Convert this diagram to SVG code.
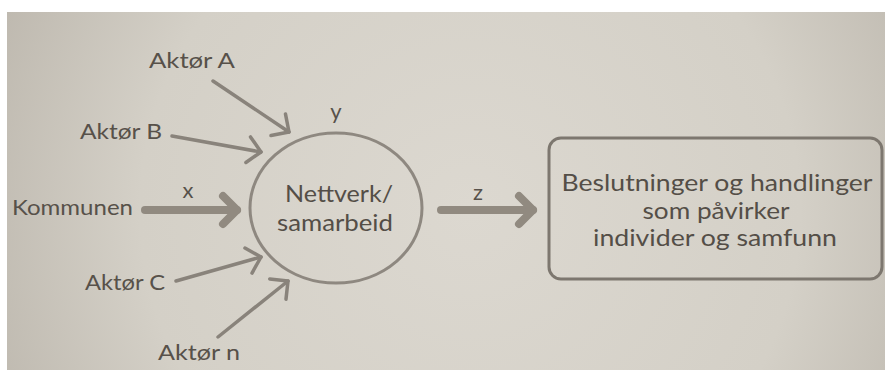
<svg xmlns="http://www.w3.org/2000/svg" width="885" height="370" viewBox="0 0 885 370">
  <defs>
    <radialGradient id="paper" cx="470" cy="210" r="600" gradientUnits="userSpaceOnUse">
      <stop offset="0" stop-color="#dcd8d0"/>
      <stop offset="0.55" stop-color="#d4d0c7"/>
      <stop offset="1" stop-color="#b3ada3"/>
    </radialGradient>
    <marker id="thin-head" markerUnits="userSpaceOnUse" viewBox="-16 -16 20 32" markerWidth="20" markerHeight="32" refX="0" refY="0" orient="auto">
      <path d="M-13,-13 L0,0 L-13,13" fill="none" stroke="#89837b" stroke-width="3.5" stroke-linecap="round" stroke-linejoin="round"/>
    </marker>
    <marker id="thick-head" markerUnits="userSpaceOnUse" viewBox="-20 -20 26 40" markerWidth="26" markerHeight="40" refX="0" refY="0" orient="auto">
      <path d="M-14,-14 L0,0 L-14,14" fill="none" stroke="#918a80" stroke-width="8" stroke-linecap="round" stroke-linejoin="round"/>
    </marker>
  </defs>
  <style>
    .lbl { font-family: Lato, "Open Sans", "Liberation Sans", sans-serif; fill: #57514a; font-size: 22px; }
    .main { font-family: Lato, "Open Sans", "Liberation Sans", sans-serif; fill: #544e47; text-anchor: middle; }
    .thin { fill: none; stroke: #89837b; stroke-width: 3.5; stroke-linecap: round; marker-end: url(#thin-head); }
    .thick { fill: none; stroke: #918a80; stroke-width: 8; stroke-linecap: round; marker-end: url(#thick-head); }
  </style>

  <!-- paper -->
  <rect width="885" height="370" fill="#ffffff"/>
  <rect x="7" y="12" width="878" height="358" fill="url(#paper)"/>

  <!-- connectors -->
  <g id="connectors">
    <line class="thin" x1="213" y1="81" x2="289" y2="132"/>
    <line class="thin" x1="172" y1="136" x2="261" y2="152"/>
    <line class="thin" x1="176" y1="281" x2="261" y2="257"/>
    <line class="thin" x1="218" y1="337" x2="288" y2="281"/>
    <line class="thick" x1="145" y1="210" x2="237" y2="210"/>
    <line class="thick" x1="441" y1="210" x2="533" y2="210"/>
    <text class="lbl" x="188" y="198" text-anchor="middle">x</text>
    <text class="lbl" x="336" y="119" text-anchor="middle">y</text>
    <text class="lbl" x="478" y="200" text-anchor="middle">z</text>
  </g>

  <!-- actors -->
  <g id="aktor-a"><text class="lbl" x="149" y="68" textLength="86" lengthAdjust="spacingAndGlyphs">Aktør A</text></g>
  <g id="aktor-b"><text class="lbl" x="80" y="139" textLength="82" lengthAdjust="spacingAndGlyphs">Aktør B</text></g>
  <g id="kommunen"><text class="lbl" x="12" y="215" textLength="121" lengthAdjust="spacingAndGlyphs">Kommunen</text></g>
  <g id="aktor-c"><text class="lbl" x="85" y="290" textLength="80" lengthAdjust="spacingAndGlyphs">Aktør C</text></g>
  <g id="aktor-n"><text class="lbl" x="158" y="360" textLength="82" lengthAdjust="spacingAndGlyphs">Aktør n</text></g>

  <!-- network -->
  <g id="nettverk">
    <ellipse cx="336" cy="208" rx="86" ry="75" fill="none" stroke="#8e8880" stroke-width="3"/>
    <text class="main" x="339" y="202" font-size="23" textLength="108" lengthAdjust="spacingAndGlyphs">Nettverk/</text>
    <text class="main" x="335" y="231" font-size="23" textLength="116" lengthAdjust="spacingAndGlyphs">samarbeid</text>
  </g>

  <!-- outcome -->
  <g id="beslutninger">
    <rect x="549" y="138" width="333" height="141" rx="12" fill="none" stroke="#7d776f" stroke-width="3"/>
    <text class="main" x="717" y="191" font-size="22.5" textLength="311" lengthAdjust="spacingAndGlyphs">Beslutninger og handlinger</text>
    <text class="main" x="716" y="219" font-size="22.5" textLength="147" lengthAdjust="spacingAndGlyphs">som påvirker</text>
    <text class="main" x="715" y="246" font-size="22.5" textLength="244" lengthAdjust="spacingAndGlyphs">individer og samfunn</text>
  </g>
</svg>
